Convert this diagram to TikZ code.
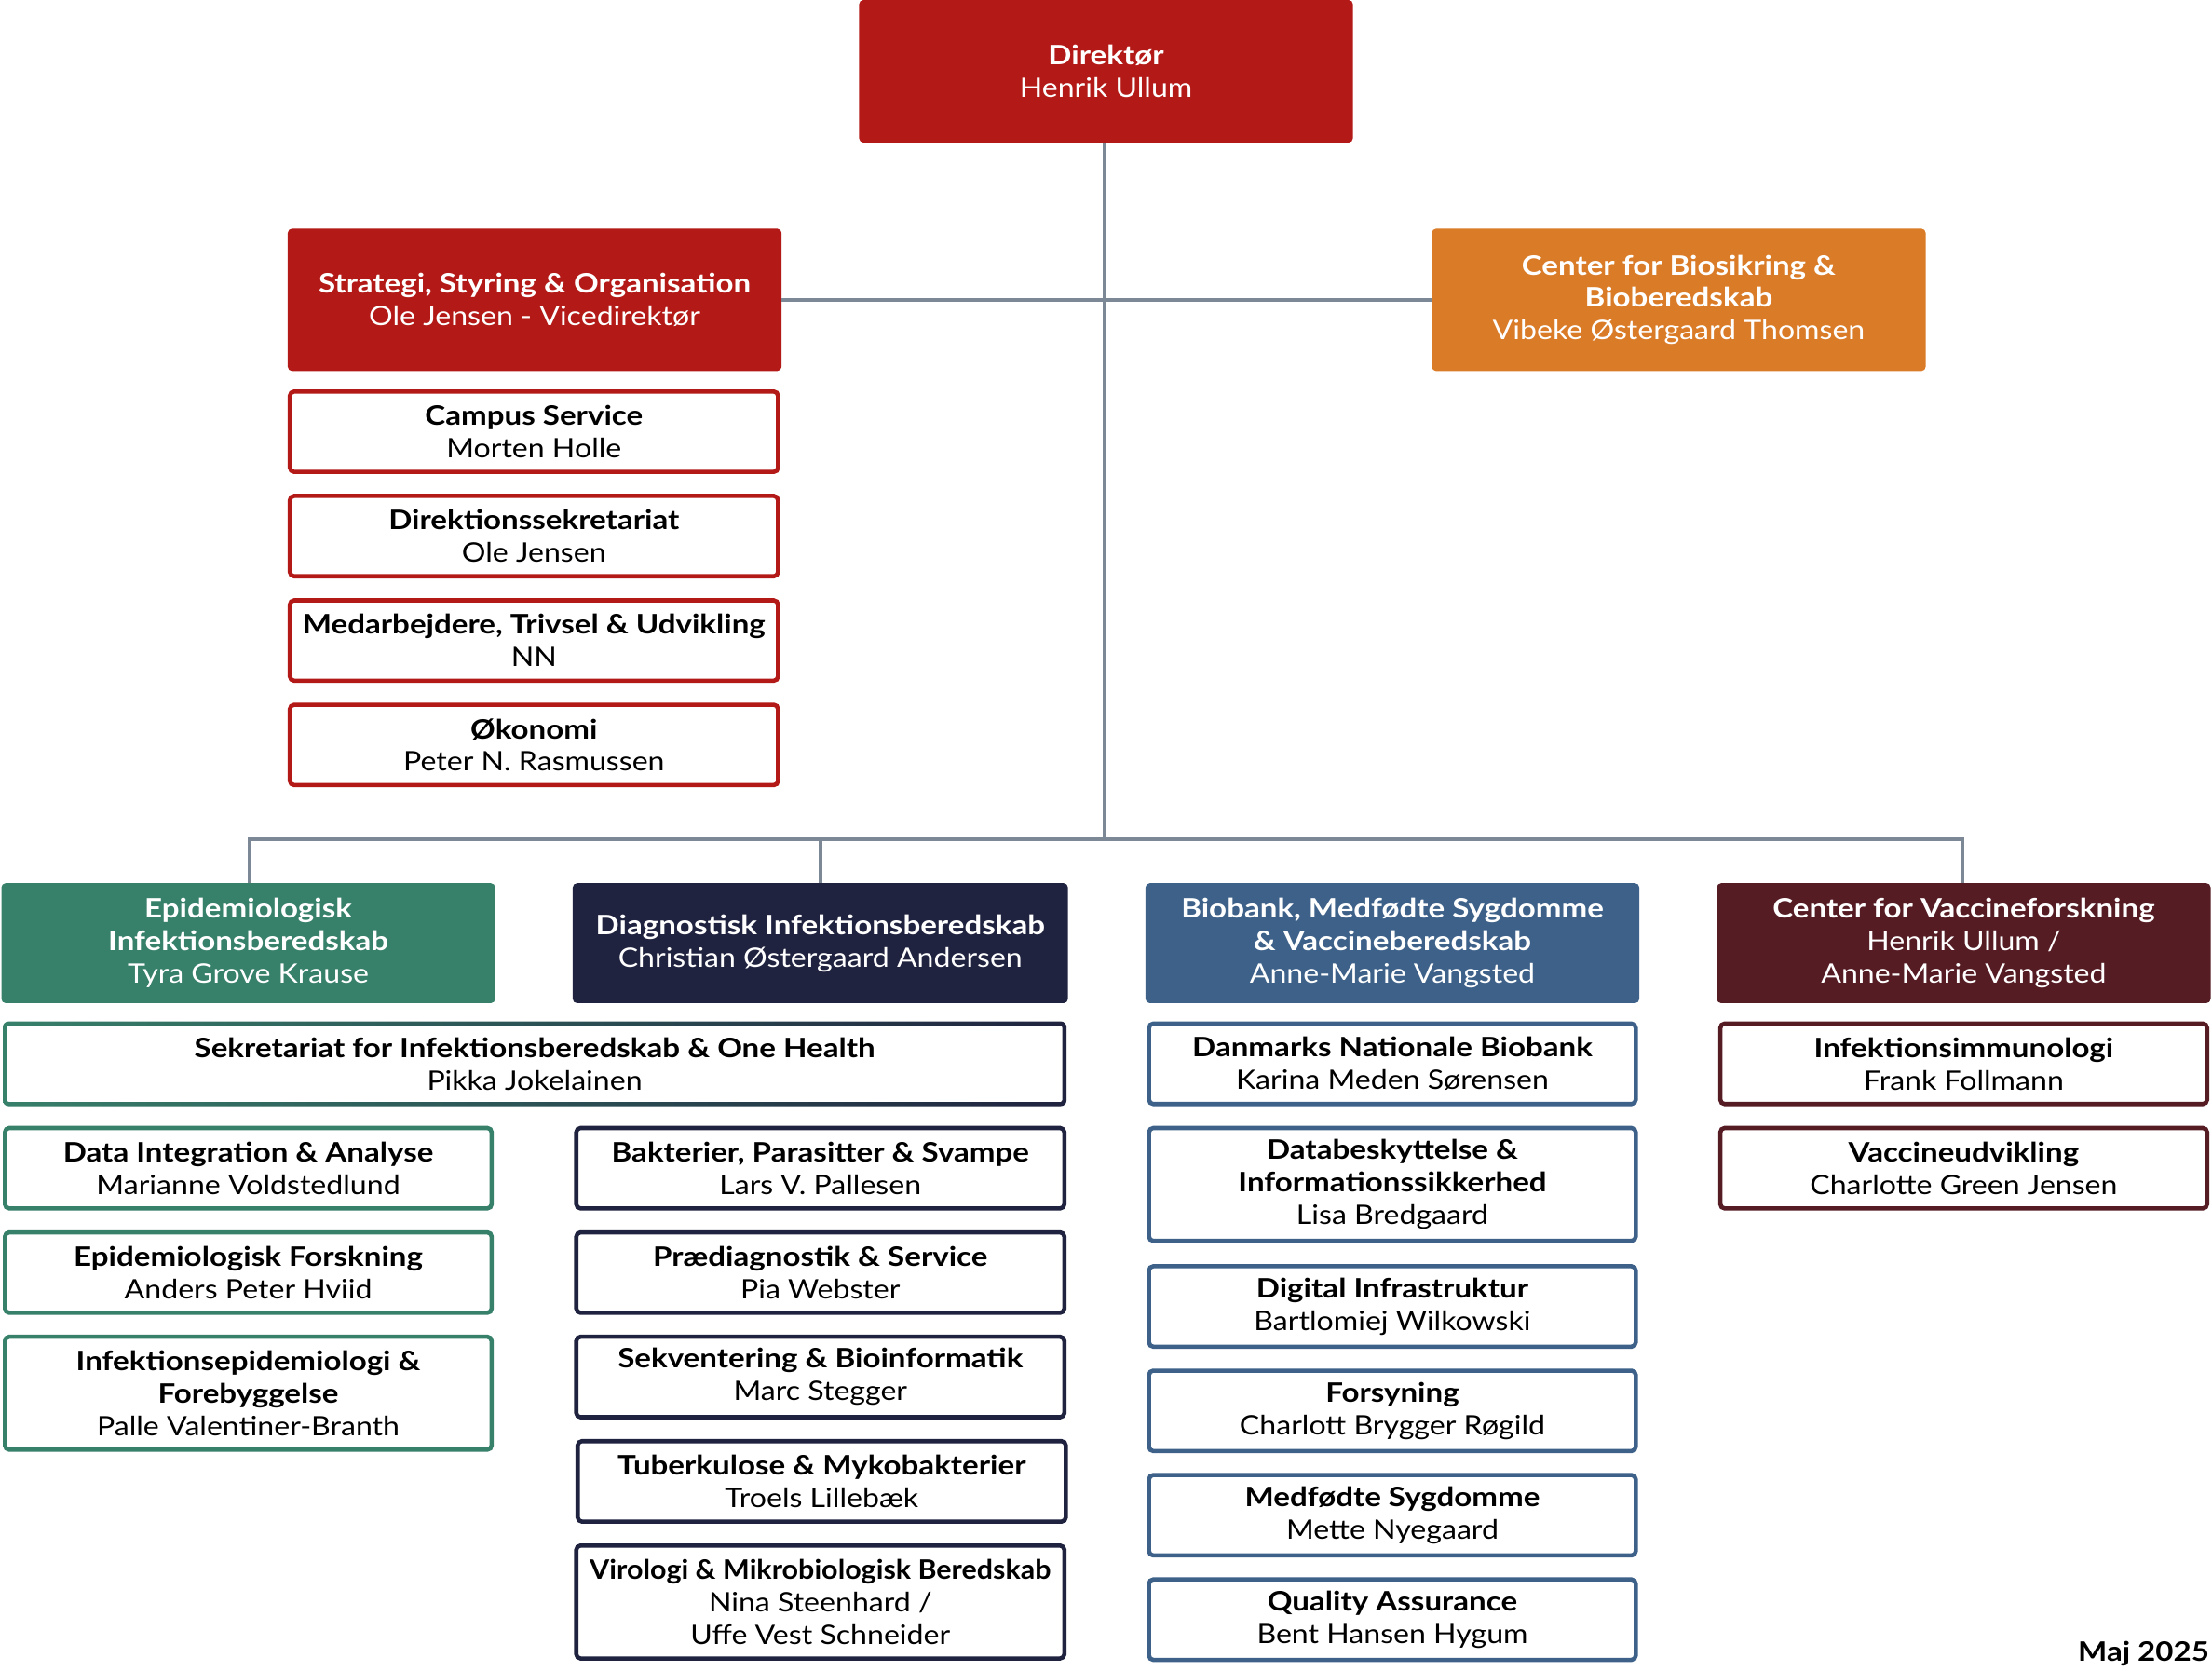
\documentclass[tikz,border=0pt]{standalone}
\usepackage{graphicx}
\usepackage{fontspec}
\setmainfont{Lato}[FakeStretch=1.115, BoldFeatures={FakeStretch=1.15}]
\definecolor{cRed}{HTML}{B31917}
\definecolor{cOrange}{HTML}{DA7B27}
\definecolor{cGreen}{HTML}{37806A}
\definecolor{cNavy}{HTML}{20233F}
\definecolor{cBlue}{HTML}{3E6189}
\definecolor{cMaroon}{HTML}{551C24}
\definecolor{cLine}{HTML}{7C8895}
\begin{document}
\begin{tikzpicture}[x=1pt,y=-1pt,
  every node/.style={font=\fontsize{19}{23}\selectfont, align=center, inner sep=0pt, outer sep=0pt},
  hdr/.style={rounded corners=3pt, text=white, minimum width=350, minimum height=101},
  sub/.style={draw=#1, line width=3pt, fill=white, rounded corners=3pt, text=black, minimum width=345, minimum height=57},
  conn/.style={draw=cLine, line width=2.5pt}
]
\useasboundingbox (0,0) rectangle (1568,1184);

% top level
\node[hdr, fill=cRed] (dir) at (784,50.5) {\textbf{Direktør}\\Henrik Ullum};
\node[hdr, fill=cRed] (strat) at (379,212.5) {\textbf{Strategi, Styring \& Organisation}\\Ole Jensen - Vicedirektør};
\node[hdr, fill=cOrange] (bio) at (1190,212.5) {\textbf{Center for Biosikring \&}\\\textbf{Bioberedskab}\\Vibeke Østergaard Thomsen};

% strategi sub boxes
\node[sub=cRed, minimum width=346] (campus) at (378.5,306) {\textbf{Campus Service}\\Morten Holle};
\node[sub=cRed, minimum width=346] (dirsek) at (378.5,380) {\textbf{Direktionssekretariat}\\Ole Jensen};
\node[sub=cRed, minimum width=346] (medarb) at (378.5,454) {\textbf{Medarbejdere, Trivsel \& Udvikling}\\NN};
\node[sub=cRed, minimum width=346] (okon) at (378.5,528) {\textbf{Økonomi}\\Peter N. Rasmussen};

% department headers
\node[hdr, fill=cGreen, minimum height=85] (epi) at (176,668.5) {\textbf{Epidemiologisk}\\\textbf{Infektionsberedskab}\\Tyra Grove Krause};
\node[hdr, fill=cNavy, minimum height=85, minimum width=351] (diag) at (581.5,668.5) {\textbf{Diagnostisk Infektionsberedskab}\\Christian Østergaard Andersen};
\node[hdr, fill=cBlue, minimum height=85] (bb) at (987,668.5) {\textbf{Biobank, Medfødte Sygdomme}\\\textbf{\& Vaccineberedskab}\\Anne-Marie Vangsted};
\node[hdr, fill=cMaroon, minimum height=85] (vac) at (1392,668.5) {\textbf{Center for Vaccineforskning}\\Henrik Ullum /\\Anne-Marie Vangsted};

% connectors
\coordinate (bus) at (783,595);
\draw[conn] (dir.south -| bus) -- (bus);
\draw[conn] (strat.east) -- (bio.west);
\draw[conn] (epi.north -| 177,0) |- (bus) -| (vac.north -| 1391,0);
\draw[conn] (diag.north) -- (diag.north |- bus);
\draw[conn] (bb.north -| 988,0) -- (bb.north -| 988,595);

% Sekretariat with gradient border
\path[rounded corners=4pt, left color=cGreen, right color=cNavy] (2,724) rectangle (756,784);
\node[fill=white, rounded corners=1.5pt, minimum width=748, minimum height=54, text=black] (sekr) at (379,754) {\textbf{Sekretariat for Infektionsberedskab \& One Health}\\Pikka Jokelainen};

% Epi column
\node[sub=cGreen] (dataint) at (176,828) {\textbf{Data Integration \& Analyse}\\Marianne Voldstedlund};
\node[sub=cGreen] (epifor) at (176,902) {\textbf{Epidemiologisk Forskning}\\Anders Peter Hviid};
\node[sub=cGreen, minimum height=80] (infepi) at (176,987.5) {\textbf{Infektionsepidemiologi \&}\\\textbf{Forebyggelse}\\Palle Valentiner-Branth};

% Diag column
\node[sub=cNavy, minimum width=346] (bakt) at (581.5,828) {\textbf{Bakterier, Parasitter \& Svampe}\\Lars V. Pallesen};
\node[sub=cNavy, minimum width=346] (praed) at (581.5,902) {\textbf{Prædiagnostik \& Service}\\Pia Webster};
\node[sub=cNavy, minimum width=346] (sekv) at (581.5,976) {\textbf{Sekventering \& Bioinformatik}\\Marc Stegger};
\node[sub=cNavy, minimum width=346] (tub) at (582.5,1050) {\textbf{Tuberkulose \& Mykobakterier}\\Troels Lillebæk};
\node[sub=cNavy, minimum width=346, minimum height=80] (viro) at (581.5,1135.5) {\scalebox{0.92}[1]{\textbf{Virologi \& Mikrobiologisk Beredskab}}\\Nina Steenhard /\\Uffe Vest Schneider};

% Biobank column
\node[sub=cBlue] (dnb) at (987,754) {\textbf{Danmarks Nationale Biobank}\\Karina Meden Sørensen};
\node[sub=cBlue, minimum height=80] (datab) at (987,839.5) {\textbf{Databeskyttelse \&}\\\textbf{Informationssikkerhed}\\Lisa Bredgaard};
\node[sub=cBlue] (digi) at (987,926) {\textbf{Digital Infrastruktur}\\Bartlomiej Wilkowski};
\node[sub=cBlue] (fors) at (987,1000) {\textbf{Forsyning}\\Charlott Brygger Røgild};
\node[sub=cBlue] (medf) at (987,1074) {\textbf{Medfødte Sygdomme}\\Mette Nyegaard};
\node[sub=cBlue] (qa) at (987,1148) {\textbf{Quality Assurance}\\Bent Hansen Hygum};

% Vaccine column
\node[sub=cMaroon] (infimm) at (1392,754) {\textbf{Infektionsimmunologi}\\Frank Follmann};
\node[sub=cMaroon] (vacud) at (1392,828) {\textbf{Vaccineudvikling}\\Charlotte Green Jensen};

\node[anchor=east] (date) at (1566,1172) {\textbf{Maj 2025}};
\end{tikzpicture}
\end{document}
